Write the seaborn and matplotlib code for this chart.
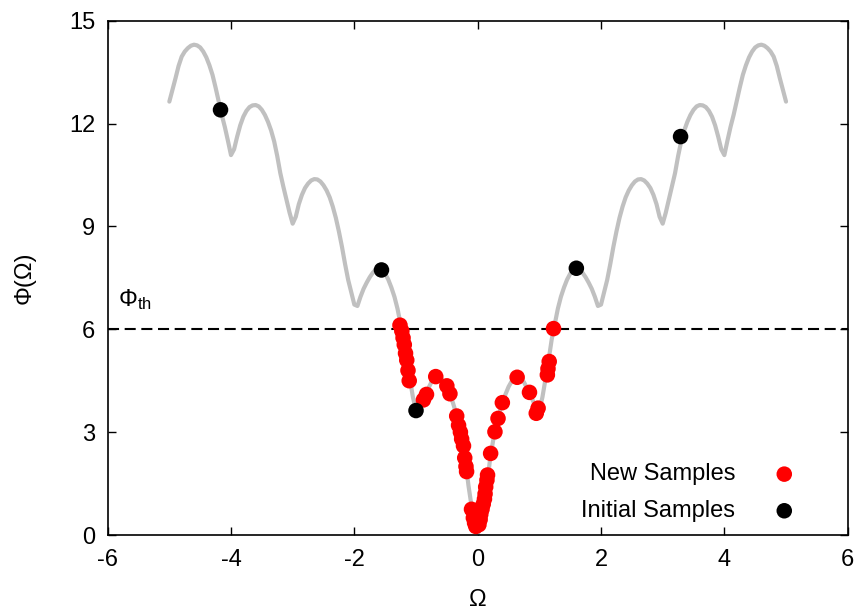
import numpy as np
import pandas as pd
import matplotlib
matplotlib.use("Agg")
import matplotlib.pyplot as plt
import seaborn as sns

# Objective curve Phi(Omega), sampled every 0.05 on [-5, 5]
omega_curve = np.round(np.linspace(-5.0, 5.0, 201), 2)
phi_curve = [
    # Omega from -5.00 to -0.05
    12.64, 12.98, 13.32, 13.68, 13.95, 14.10, 14.20, 14.27, 14.30, 14.28,
    14.22, 14.10, 13.93, 13.70, 13.42, 13.05, 12.65, 12.25, 11.90, 11.50,
    11.08, 11.25, 11.62, 11.95, 12.20, 12.37, 12.48, 12.53, 12.54, 12.50,
    12.40, 12.25, 12.05, 11.80, 11.48, 11.05, 10.55, 10.15, 9.78, 9.40,
    9.08, 9.28, 9.65, 9.92, 10.12, 10.25, 10.34, 10.38, 10.37, 10.31,
    10.20, 10.05, 9.85, 9.58, 9.25, 8.85, 8.40, 7.90, 7.44, 7.08,
    6.72, 6.68, 6.95, 7.18, 7.36, 7.52, 7.65, 7.75, 7.78, 7.74,
    7.62, 7.45, 7.22, 6.95, 6.60, 6.15, 5.70, 5.10, 4.55, 4.02,
    3.63, 3.72, 3.90, 4.10, 4.28, 4.46, 4.58, 4.62, 4.58, 4.48,
    4.32, 4.10, 3.85, 3.55, 3.15, 2.75, 2.20, 1.45, 0.85, 0.40,
    # Omega from 0.00 to 5.00
    0.00, 0.40, 0.85, 1.45, 2.20, 2.75, 3.15, 3.55, 3.85, 4.10,
    4.32, 4.48, 4.58, 4.62, 4.58, 4.46, 4.28, 4.10, 3.90, 3.72,
    3.63, 4.02, 4.55, 5.10, 5.70, 6.15, 6.60, 6.95, 7.22, 7.45,
    7.62, 7.74, 7.78, 7.75, 7.65, 7.52, 7.36, 7.18, 6.95, 6.68,
    6.72, 7.08, 7.44, 7.90, 8.40, 8.85, 9.25, 9.58, 9.85, 10.05,
    10.20, 10.31, 10.37, 10.38, 10.34, 10.25, 10.12, 9.92, 9.65, 9.28,
    9.08, 9.40, 9.78, 10.15, 10.55, 11.05, 11.48, 11.80, 12.05, 12.25,
    12.40, 12.50, 12.54, 12.53, 12.48, 12.37, 12.20, 11.95, 11.62, 11.25,
    11.08, 11.50, 11.90, 12.25, 12.65, 13.05, 13.42, 13.70, 13.93, 14.10,
    14.22, 14.28, 14.30, 14.27, 14.20, 14.10, 13.95, 13.68, 13.32, 12.98,
    12.64,
]

# Adaptively added samples
new_omega = [-1.26, -1.23, -1.21, -1.19, -1.17, -1.15, -1.13, -1.11,
             -0.88, -0.83, -0.68, -0.50, -0.45,
             -0.34, -0.31, -0.28, -0.26, -0.23, -0.21, -0.19, -0.18,
             -0.10, -0.07, -0.05, -0.03,
             0.02, 0.04, 0.05, 0.07, 0.09, 0.11, 0.12, 0.13, 0.15, 0.16,
             0.21, 0.28, 0.33, 0.40,
             0.64, 0.84, 0.95, 0.98,
             1.13, 1.14, 1.16, 1.23]
new_phi = [6.12, 5.95, 5.75, 5.55, 5.30, 5.10, 4.80, 4.50,
           3.94, 4.10, 4.62, 4.35, 4.12,
           3.47, 3.20, 3.00, 2.80, 2.60, 2.25, 2.00, 1.85,
           0.75, 0.50, 0.35, 0.25,
           0.30, 0.45, 0.60, 0.75, 0.90, 1.05, 1.20, 1.40, 1.60, 1.75,
           2.38, 3.01, 3.40, 3.86,
           4.60, 4.16, 3.55, 3.70,
           4.67, 4.85, 5.06, 6.02]

# Initial design
init_omega = [-4.17, -1.56, -1.00, 1.60, 3.29]
init_phi = [12.40, 7.73, 3.63, 7.78, 11.62]

threshold = 6.0
x_ticks = [-6, -4, -2, 0, 2, 4, 6]
y_ticks = [0, 3, 6, 9, 12, 15]

sns.set_theme(style="ticks")
plt.rcParams["font.family"] = ["Liberation Sans", "DejaVu Sans"]
plt.rcParams["mathtext.fontset"] = "custom"
plt.rcParams["mathtext.rm"] = "Liberation Sans"
plt.rcParams["mathtext.it"] = "Liberation Sans:italic"
plt.rcParams["axes.unicode_minus"] = False
plt.rcParams["text.color"] = "black"
plt.rcParams["axes.labelcolor"] = "black"

FS = 17

fig = plt.figure(figsize=(8.62, 6.12), dpi=100)
ax = fig.add_axes([0.1249, 0.1258, 0.8585, 0.8404])

curve = pd.DataFrame({"omega": omega_curve, "phi": phi_curve})
sns.lineplot(data=curve, x="omega", y="phi", color="#c0c0c0", lw=3.0,
             ax=ax, sort=False, legend=False, zorder=1)
ax.axhline(threshold, color="black", lw=1.5, dashes=(5.3, 2.7), zorder=2)

sns.scatterplot(x=new_omega, y=new_phi, color="#ff0000", s=125,
                edgecolor="none", label="New Samples", ax=ax, zorder=3)
sns.scatterplot(x=init_omega, y=init_phi, color="black", s=125,
                edgecolor="none", label="Initial Samples", ax=ax, zorder=4)

ax.text(-5.83, 6.68, r"Φ$_{\rm th}$", fontsize=FS, va="baseline", ha="left",
        color="black")

ax.set_xlim(-6, 6)
ax.set_ylim(0, 15)
ax.set_xticks(x_ticks)
ax.set_yticks(y_ticks)
ax.set_xlabel("Ω", fontsize=FS, labelpad=13, color="black")
ax.set_ylabel("Φ(Ω)", fontsize=FS, labelpad=24, color="black")
ax.tick_params(direction="in", length=6, width=1.0, top=True, right=True,
               labelsize=FS, colors="black")
ax.tick_params(axis="x", pad=10)
ax.tick_params(axis="y", pad=9)
for sp in ax.spines.values():
    sp.set_visible(True)
    sp.set_color("black")
    sp.set_linewidth(1.2)

leg = ax.legend(loc="lower right", bbox_to_anchor=(0.951, 0.007),
                frameon=False, markerfirst=False, fontsize=FS,
                handletextpad=1.32, labelspacing=0.62, handlelength=1.5,
                borderaxespad=0.0)
for t in leg.get_texts():
    t.set_color("black")

fig.savefig("out.png", dpi=100)
